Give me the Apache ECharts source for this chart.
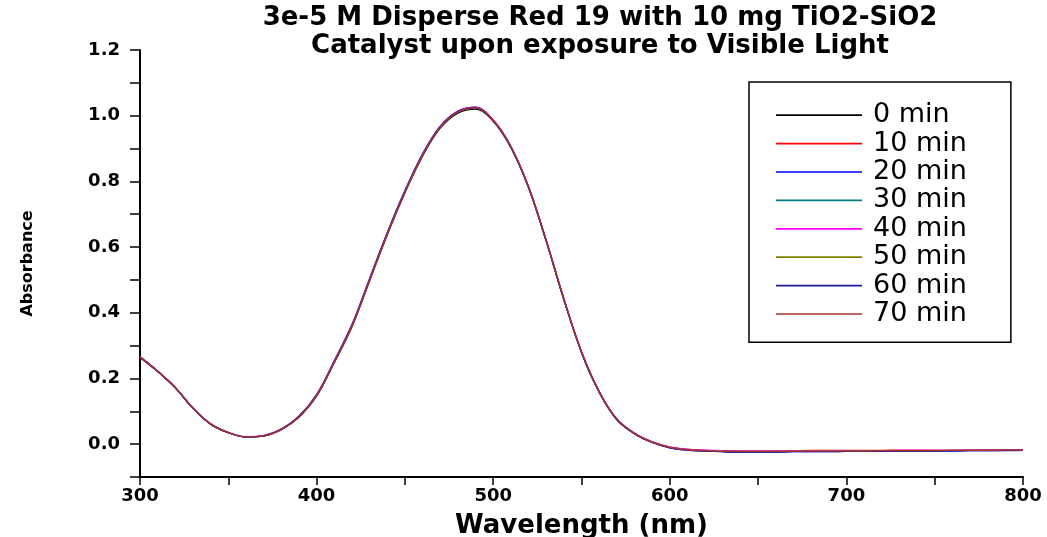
<!DOCTYPE html>
<html>
<head>
<meta charset="utf-8">
<script src="https://cdn.jsdelivr.net/npm/echarts@6/dist/echarts.min.js"></script>
<style>
html,body{margin:0;padding:0;background:#fff;}
#chart{width:1047px;height:537px;}
</style>
</head>
<body>
<div id="chart"></div>
<script>
// Wavelength (nm)
var wavelengths = [
  300,310,320,330,340,350,360,370,380,390,
  400,410,420,430,440,450,460,470,480,490,
  500,510,520,530,540,550,560,570,580,590,
  600,610,620,630,640,650,660,670,680,690,
  700,710,720,730,740,750,760,770,780,790,
  800];

var seriesNames = ['0 min','10 min','20 min','30 min','40 min','50 min','60 min','70 min'];

var abs0 = [
  0.266,0.222,0.171,0.109,0.061,0.035,0.022,0.025,0.044,0.082,
  0.146,0.248,0.357,0.497,0.637,0.765,0.877,0.962,1.008,1.020,
  0.983,0.903,0.781,0.618,0.440,0.279,0.158,0.075,0.032,0.006,
  -0.010,-0.017,-0.020,-0.022,-0.023,-0.023,-0.023,-0.022,-0.022,-0.022,
  -0.021,-0.021,-0.021,-0.020,-0.020,-0.020,-0.020,-0.019,-0.019,-0.019,
  -0.018];
var abs10 = [
  0.265,0.222,0.172,0.109,0.061,0.035,0.022,0.025,0.045,0.083,
  0.148,0.250,0.360,0.500,0.640,0.768,0.880,0.966,1.013,1.025,
  0.987,0.907,0.785,0.622,0.443,0.281,0.160,0.076,0.032,0.006,
  -0.010,-0.016,-0.019,-0.020,-0.021,-0.021,-0.021,-0.020,-0.019,-0.019,
  -0.019,-0.019,-0.019,-0.018,-0.018,-0.019,-0.019,-0.019,-0.018,-0.018,
  -0.018];
var abs20 = [
  0.264,0.221,0.172,0.110,0.062,0.035,0.022,0.026,0.046,0.085,
  0.151,0.254,0.364,0.504,0.644,0.772,0.884,0.968,1.014,1.026,
  0.986,0.905,0.782,0.619,0.441,0.280,0.159,0.075,0.032,0.005,
  -0.011,-0.018,-0.021,-0.023,-0.024,-0.024,-0.024,-0.023,-0.023,-0.023,
  -0.022,-0.022,-0.022,-0.021,-0.021,-0.021,-0.021,-0.020,-0.020,-0.020,
  -0.019];
var abs30 = [
  0.265,0.222,0.172,0.109,0.061,0.035,0.022,0.025,0.045,0.084,
  0.149,0.251,0.361,0.501,0.641,0.769,0.881,0.966,1.012,1.024,
  0.985,0.905,0.782,0.619,0.441,0.280,0.159,0.075,0.032,0.006,
  -0.010,-0.017,-0.020,-0.022,-0.023,-0.023,-0.022,-0.022,-0.022,-0.021,
  -0.021,-0.021,-0.020,-0.020,-0.020,-0.020,-0.019,-0.019,-0.019,-0.018,
  -0.018];
var abs40 = [
  0.266,0.223,0.173,0.110,0.062,0.036,0.023,0.026,0.046,0.085,
  0.150,0.253,0.363,0.503,0.643,0.770,0.882,0.967,1.013,1.025,
  0.987,0.906,0.784,0.621,0.443,0.282,0.161,0.077,0.034,0.008,
  -0.008,-0.015,-0.018,-0.020,-0.021,-0.021,-0.021,-0.021,-0.020,-0.020,
  -0.020,-0.020,-0.020,-0.019,-0.019,-0.019,-0.019,-0.018,-0.018,-0.018,
  -0.017];
var abs50 = [
  0.265,0.222,0.172,0.109,0.061,0.035,0.022,0.025,0.045,0.083,
  0.148,0.250,0.360,0.500,0.640,0.768,0.880,0.965,1.011,1.023,
  0.985,0.905,0.783,0.620,0.442,0.280,0.159,0.075,0.032,0.006,
  -0.010,-0.017,-0.020,-0.021,-0.022,-0.022,-0.022,-0.022,-0.021,-0.021,
  -0.021,-0.020,-0.020,-0.020,-0.020,-0.020,-0.019,-0.019,-0.019,-0.019,
  -0.018];
var abs60 = [
  0.265,0.222,0.172,0.109,0.061,0.035,0.022,0.025,0.045,0.084,
  0.149,0.251,0.361,0.501,0.641,0.769,0.881,0.966,1.012,1.024,
  0.985,0.904,0.782,0.619,0.441,0.280,0.159,0.075,0.032,0.005,
  -0.011,-0.018,-0.021,-0.023,-0.024,-0.024,-0.024,-0.023,-0.023,-0.023,
  -0.022,-0.022,-0.022,-0.021,-0.021,-0.021,-0.020,-0.020,-0.020,-0.019,
  -0.019];
var abs70 = [
  0.265,0.222,0.172,0.109,0.061,0.035,0.022,0.025,0.045,0.083,
  0.148,0.250,0.360,0.500,0.640,0.768,0.880,0.966,1.012,1.024,
  0.986,0.906,0.783,0.620,0.442,0.281,0.160,0.076,0.032,0.006,
  -0.010,-0.017,-0.020,-0.022,-0.022,-0.022,-0.022,-0.022,-0.021,-0.021,
  -0.021,-0.021,-0.020,-0.020,-0.020,-0.019,-0.019,-0.019,-0.019,-0.018,
  -0.018];

var seriesColors = ['#000000','#ff0000','#0000ff','#008080','#ff00ff','#808000','#1f1f99','#a83232'];

var titleLines = ['3e-5 M Disperse Red 19 with 10 mg TiO2-SiO2', 'Catalyst upon exposure to Visible Light'];
var xName = 'Wavelength (nm)';
var yName = 'Absorbance';

var allAbs = [abs0, abs10, abs20, abs30, abs40, abs50, abs60, abs70];

function pairs(ys) {
  return wavelengths.map(function (w, i) { return [w, ys[i]]; });
}

var series = seriesNames.map(function (name, k) {
  return {
    name: name,
    type: 'line',
    data: pairs(allAbs[k]),
    showSymbol: false,
    symbol: 'none',
    smooth: 0.35,
    lineStyle: { color: seriesColors[k], width: 1.3 },
    itemStyle: { color: seriesColors[k] },
    animation: false
  };
});

var chart = echarts.init(document.getElementById('chart'), null, { renderer: 'canvas' });
chart.setOption({
  backgroundColor: '#ffffff',
  animation: false,
  title: {
    text: titleLines.join('\n'),
    left: 600,
    top: 4,
    padding: 0,
    textAlign: 'center',
    textStyle: {
      fontFamily: 'DejaVu Sans',
      fontWeight: 'bold',
      fontSize: 26,
      lineHeight: 28,
      color: '#000'
    }
  },
  legend: {
    data: seriesNames,
    orient: 'vertical',
    left: 749,
    top: 82,
    padding: [19, 44, 14, 27],
    itemGap: 0,
    itemWidth: 86,
    itemHeight: 2,
    icon: 'path://M0,0 L100,0 L100,2 L0,2 Z',
    borderColor: '#000',
    borderWidth: 1.5,
    backgroundColor: '#fff',
    selectedMode: false,
    textStyle: {
      fontFamily: 'DejaVu Sans',
      fontSize: 27,
      lineHeight: 28.4,
      color: '#000',
      padding: [0, 0, 0, 6]
    }
  },
  grid: { left: 140, right: 24, top: 50, height: 427, containLabel: false, outerBoundsMode: 'none' },
  xAxis: {
    type: 'value',
    min: 300,
    max: 800,
    interval: 50,
    name: xName,
    nameLocation: 'middle',
    nameGap: 36,
    nameTextStyle: { fontFamily: 'DejaVu Sans', fontWeight: 'bold', fontSize: 26, color: '#000' },
    axisLine: { show: true, onZero: false, lineStyle: { color: '#000', width: 2 } },
    axisTick: { show: true, inside: false, length: 8, lineStyle: { color: '#000', width: 1.5 } },
    axisLabel: {
      margin: 10,
      fontFamily: 'DejaVu Sans',
      fontWeight: 'bold',
      fontSize: 18,
      color: '#000',
      formatter: function (v) { return (Math.round(v) % 100 === 0) ? String(Math.round(v)) : ''; }
    },
    splitLine: { show: false }
  },
  yAxis: {
    type: 'value',
    min: -0.1,
    max: 1.2,
    interval: 0.1,
    name: yName,
    nameLocation: 'middle',
    nameRotate: 90,
    nameGap: 104,
    nameTextStyle: { fontFamily: 'DejaVu Sans', fontWeight: 'bold', fontSize: 16, color: '#000' },
    axisLine: { show: true, onZero: false, lineStyle: { color: '#000', width: 2 } },
    axisTick: { show: true, inside: false, length: 10, lineStyle: { color: '#000', width: 1.5 } },
    axisLabel: {
      margin: 20,
      fontFamily: 'DejaVu Sans',
      fontWeight: 'bold',
      fontSize: 18,
      color: '#000',
      formatter: function (v) {
        var t = Math.round(v * 10);
        return (t % 2 === 0) ? (t / 10).toFixed(1) : '';
      }
    },
    splitLine: { show: false }
  },
  series: series
});
</script>
</body>
</html>
